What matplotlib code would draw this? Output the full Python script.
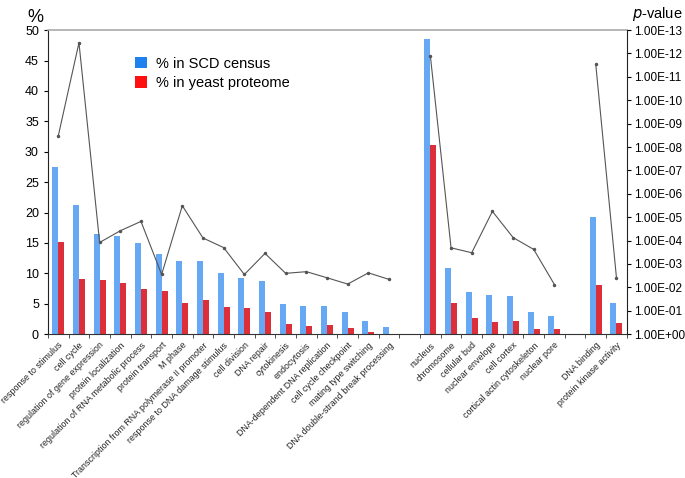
import numpy as np
import matplotlib
matplotlib.use("Agg")
import matplotlib.pyplot as plt
from matplotlib.patches import Patch

plt.rcParams['font.family'] = ['Liberation Sans', 'DejaVu Sans']

# categories (None = empty slot between groups)
categorias = [
    'response to stimulus', 'cell cycle', 'regulation of gene expression',
    'protein localization', 'regulation of RNA metabolic process',
    'protein transport', 'M phase',
    'Transcription from RNA polymerase II promoter',
    'response to DNA damage stimulus', 'cell division', 'DNA repair',
    'cytokinesis', 'endocytosis', 'DNA-dependent DNA replication',
    'cell cycle checkpoint', 'mating type switching',
    'DNA double-strand break processing',
    None,
    'nucleus', 'chromosome', 'cellular bud', 'nuclear envelope',
    'cell cortex', 'cortical actin cytoskeleton', 'nuclear pore',
    None,
    'DNA binding', 'protein kinase activity',
]

pct_scd = [27.5, 21.3, 16.4, 16.2, 15.0, 13.2, 12.0, 12.0, 10.0, 9.3, 8.8,
           4.9, 4.6, 4.6, 3.7, 2.1, 1.15,
           np.nan,
           48.5, 10.9, 6.85, 6.5, 6.3, 3.6, 3.0,
           np.nan,
           19.2, 5.1]

pct_proteome = [15.1, 9.0, 8.9, 8.4, 7.4, 7.1, 5.1, 5.6, 4.4, 4.3, 3.7,
                1.6, 1.4, 1.5, 1.0, 0.3, 0.05,
                np.nan,
                31.1, 5.2, 2.7, 2.0, 2.1, 0.8, 0.77,
                np.nan,
                8.1, 1.9]

# -log10(p-value)
menos_log_p = [8.48, 12.46, 3.92, 4.42, 4.82, 2.55, 5.49, 4.11, 3.70, 2.55,
               3.45, 2.60, 2.67, 2.41, 2.14, 2.62, 2.34,
               np.nan,
               11.89, 3.69, 3.48, 5.25, 4.13, 3.62, 2.12,
               np.nan,
               11.53, 2.42]

p_ticks = ['1.00E+00', '1.00E-01', '1.00E-02', '1.00E-03', '1.00E-04',
           '1.00E-05', '1.00E-06', '1.00E-07', '1.00E-08', '1.00E-09',
           '1.00E-10', '1.00E-11', '1.00E-12', '1.00E-13']

azul = '#66a8f4'
vermelho = '#dc2f3a'

x = np.arange(len(categorias))
largura = 0.29

fig = plt.figure(figsize=(6.85, 4.78), dpi=100)
ax = fig.add_axes([0.070, 0.301, 0.845, 0.636])

ax.bar(x - largura / 2, pct_scd, largura, color=azul, linewidth=0)
ax.bar(x + largura / 2, pct_proteome, largura, color=vermelho, linewidth=0)

ax.set_xlim(-0.5, len(categorias) - 0.5)
ax.set_ylim(0, 50)
ax.set_yticks(range(0, 51, 5))
ax.tick_params(axis='y', labelsize=9, length=3, width=0.8, direction='out')

ax.set_xticks(np.arange(-0.5, len(categorias), 1))
ax.set_xticklabels([])
ax.tick_params(axis='x', length=3, width=0.6, direction='out', color='#333333')

# category labels
for i, nome in enumerate(categorias):
    if nome is None:
        continue
    ax.text(i + 0.15, -1.6, nome, rotation=45, ha='right', va='center',
            rotation_mode='anchor', fontsize=6.4, color='#222222')

ax.spines['top'].set_color('#aaaaaa')
ax.spines['top'].set_linewidth(1.2)
ax.spines['left'].set_color('#222222')
ax.spines['bottom'].set_color('#333333')
ax.spines['right'].set_visible(False)

# p-value axis
ax2 = ax.twinx()
ax2.plot(x, menos_log_p, color='#555555', linewidth=0.8, marker='o',
         markersize=1.5)
ax2.set_ylim(0, 13)
ax2.set_yticks(range(0, 14))
ax2.set_yticklabels(p_ticks)
ax2.tick_params(axis='y', labelsize=8.5, length=3, width=0.8, direction='out',
                pad=2)
ax2.spines['right'].set_color('#222222')
for s in ['top', 'left', 'bottom']:
    ax2.spines[s].set_visible(False)

fig.text(0.040, 0.955, '%', fontsize=13)
fig.text(0.923, 0.963, '$p$-value', fontsize=10.5)

legenda = [Patch(facecolor='#1f80f0', label='% in SCD census'),
           Patch(facecolor='#ff1010', label='% in yeast proteome')]
ax.legend(handles=legenda, loc='upper left', bbox_to_anchor=(0.128, 0.955),
          frameon=False, fontsize=10.5, handlelength=0.8, handleheight=0.8,
          handletextpad=0.6, labelspacing=0.35)

fig.savefig('out.png', dpi=100)
